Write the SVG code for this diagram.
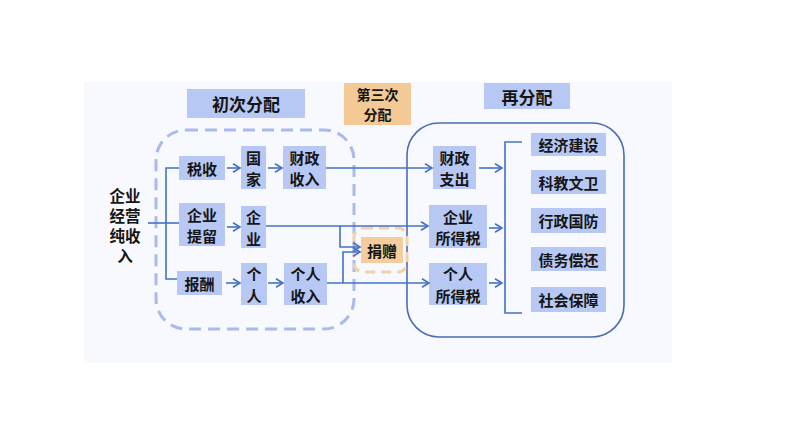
<svg xmlns="http://www.w3.org/2000/svg" width="794" height="447" viewBox="0 0 794 447">
<defs>
<style>
text{font-family:"Noto Sans CJK SC","Noto Sans",sans-serif;font-weight:bold;fill:#151515;text-anchor:middle;dominant-baseline:central}
.n{fill:#b7c8f5}
.t15{font-size:15px}
.ln{fill:none;stroke:#4472c4;stroke-width:1.6}
</style>
<marker id="ah" markerUnits="userSpaceOnUse" markerWidth="12" markerHeight="12" refX="8" refY="5" orient="auto" viewBox="0 0 12 10">
<path d="M1,0.8 L8,5 L1,9.2" fill="none" stroke="#4472c4" stroke-width="1.6"/>
</marker>
</defs>
<rect x="0" y="0" width="794" height="447" fill="#ffffff"/>
<rect x="84" y="82" width="588" height="281" fill="#f7f9fe"/>

<g id="frame-primary">
<rect x="156" y="130" width="198" height="199" rx="30" fill="none" stroke="#a9baeb" stroke-width="3" stroke-dasharray="12 7"/>
</g>
<g id="frame-redistribution">
<rect x="407" y="123" width="217" height="214" rx="32" fill="none" stroke="#4a6db3" stroke-width="1.6"/>
</g>

<g id="title-primary"><rect class="n" x="187" y="89" width="118" height="29"/><text x="246" y="103.5" font-size="17">初次分配</text></g>
<g id="title-third"><rect x="344" y="83" width="67" height="42" fill="#f3c995"/><text x="377.5" y="94" font-size="14">第三次<tspan x="377.5" dy="20">分配</tspan></text></g>
<g id="title-re"><rect class="n" x="484" y="83" width="86" height="26"/><text x="527" y="96" font-size="17">再分配</text></g>

<g id="source"><text x="125" y="195" font-size="15.5">企业<tspan x="125" dy="20">经营</tspan><tspan x="125" dy="20">纯收</tspan><tspan x="125" dy="20">入</tspan></text></g>

<g id="tax"><rect class="n" x="179" y="156" width="46" height="24"/><text class="t15" x="202" y="168">税收</text></g>
<g id="state"><rect class="n" x="241" y="146" width="25" height="43"/><text class="t15" x="253.5" y="157">国<tspan x="253.5" dy="21">家</tspan></text></g>
<g id="fiscal-income"><rect class="n" x="283" y="146" width="43" height="43"/><text class="t15" x="304.5" y="157">财政<tspan x="304.5" dy="21">收入</tspan></text></g>
<g id="retain"><rect class="n" x="179" y="203" width="46" height="43"/><text class="t15" x="202" y="214">企业<tspan x="202" dy="21">提留</tspan></text></g>
<g id="enterprise"><rect class="n" x="241" y="206" width="25" height="42"/><text class="t15" x="253.5" y="216.5">企<tspan x="253.5" dy="21">业</tspan></text></g>
<g id="pay"><rect class="n" x="177" y="271" width="45" height="24"/><text class="t15" x="199.5" y="283">报酬</text></g>
<g id="person"><rect class="n" x="241" y="263" width="26" height="42"/><text class="t15" x="254" y="273.5">个<tspan x="254" dy="21">人</tspan></text></g>
<g id="personal-income"><rect class="n" x="284" y="263" width="43" height="42"/><text class="t15" x="305.5" y="273.5">个人<tspan x="305.5" dy="21">收入</tspan></text></g>

<g id="donation"><rect x="354" y="228" width="53" height="44" rx="9" fill="none" stroke="#f2d0a8" stroke-width="3" stroke-dasharray="10 6"/><rect x="361" y="237" width="42" height="26" fill="#f3cd9e"/><text class="t15" x="382" y="250">捐赠</text></g>

<g id="fiscal-spend"><rect class="n" x="433" y="146" width="43" height="43"/><text class="t15" x="454.5" y="157">财政<tspan x="454.5" dy="21">支出</tspan></text></g>
<g id="corp-tax"><rect class="n" x="429" y="205" width="58" height="43"/><text class="t15" x="458" y="216">企业<tspan x="458" dy="21">所得税</tspan></text></g>
<g id="pers-tax"><rect class="n" x="429" y="263" width="58" height="42"/><text class="t15" x="458" y="273.5">个人<tspan x="458" dy="21">所得税</tspan></text></g>

<g id="econ"><rect class="n" x="531" y="133" width="75" height="23"/><text class="t15" x="568.5" y="144.5">经济建设</text></g>
<g id="edu"><rect class="n" x="531" y="170" width="75" height="24"/><text class="t15" x="568.5" y="182">科教文卫</text></g>
<g id="admin"><rect class="n" x="531" y="208" width="75" height="25"/><text class="t15" x="568.5" y="220.5">行政国防</text></g>
<g id="debt"><rect class="n" x="531" y="247" width="75" height="24"/><text class="t15" x="568.5" y="259">债务偿还</text></g>
<g id="social"><rect class="n" x="531" y="287" width="75" height="25"/><text class="t15" x="568.5" y="299.5">社会保障</text></g>

<g id="connectors">
<path class="ln" d="M148,223 H179"/>
<path class="ln" d="M179,168 H166 V279 H177"/>
<path class="ln" d="M227,168 H240" marker-end="url(#ah)"/>
<path class="ln" d="M268,168 H282" marker-end="url(#ah)"/>
<path class="ln" d="M326,168 H432" marker-end="url(#ah)"/>
<path class="ln" d="M479,168 H502" marker-end="url(#ah)"/>
<path class="ln" d="M227,227 H240" marker-end="url(#ah)"/>
<path class="ln" d="M266,226 H428" marker-end="url(#ah)"/>
<path class="ln" d="M340,226 V247 H360" marker-end="url(#ah)"/>
<path class="ln" d="M489,228 H502" marker-end="url(#ah)"/>
<path class="ln" d="M226,283 H240" marker-end="url(#ah)"/>
<path class="ln" d="M268,283 H283" marker-end="url(#ah)"/>
<path class="ln" d="M327,283 H429" marker-end="url(#ah)"/>
<path class="ln" d="M343,283 V252 H360" marker-end="url(#ah)"/>
<path class="ln" d="M489,283 H502" marker-end="url(#ah)"/>
<path class="ln" d="M522,142 H505 V313 H522"/>
</g>
</svg>
